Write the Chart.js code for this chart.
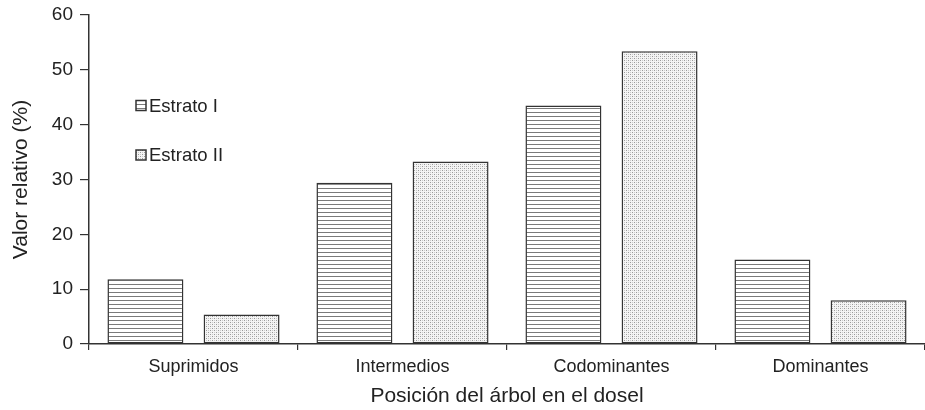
<!DOCTYPE html>
<html lang="es">
<head>
    <meta charset="UTF-8">
    <title>Posición del árbol en el dosel</title>
    <script src="https://cdn.jsdelivr.net/npm/chart.js"></script>
    <style>
        html, body { margin: 0; padding: 0; background: #ffffff; }
        #wrap { width: 925px; height: 410px; position: relative; }
    </style>
</head>
<body>
    <div id="wrap"><canvas id="chart"></canvas></div>

    <script>
        // data
        const categories = ["Suprimidos", "Intermedios", "Codominantes", "Dominantes"];
        const estratoI = [11.8, 29.4, 43.5, 15.4];
        const estratoII = [5.4, 33.3, 53.4, 8.0];
        const seriesNames = ["Estrato I", "Estrato II"];
        const yTicks = [0, 10, 20, 30, 40, 50, 60];

        const FONT = "'Liberation Sans', Arial, sans-serif";
        const INK = "#222222";
        const LINE = "#333333";

        // horizontal hatch for Estrato I
        function makeLines() {
            const c = document.createElement("canvas");
            c.width = 4; c.height = 4;
            const g = c.getContext("2d");
            g.fillStyle = "#ffffff";
            g.fillRect(0, 0, 4, 4);
            g.fillStyle = "#7a7a7a";
            g.fillRect(0, 0, 4, 1);
            return g.createPattern(c, "repeat");
        }

        // fine stipple for Estrato II
        function makeDots() {
            const c = document.createElement("canvas");
            c.width = 4; c.height = 4;
            const g = c.getContext("2d");
            g.fillStyle = "#f4f4f4";
            g.fillRect(0, 0, 4, 4);
            g.fillStyle = "#9a9a9a";
            g.fillRect(0, 0, 1, 1);
            g.fillRect(2, 2, 1, 1);
            g.fillStyle = "#cccccc";
            g.fillRect(2, 0, 1, 1);
            g.fillRect(0, 2, 1, 1);
            return g.createPattern(c, "repeat");
        }

        const fills = [makeLines(), makeDots()];

        // legend drawn inside the plot, top-left
        const insideLegend = {
            id: "insideLegend",
            afterDraw(chart) {
                const ctx = chart.ctx;
                const rows = [105.5, 155];
                ctx.save();
                seriesNames.forEach((name, i) => {
                    const y = rows[i];
                    ctx.fillStyle = fills[i];
                    ctx.fillRect(136, y - 5, 10, 10);
                    ctx.strokeStyle = LINE;
                    ctx.lineWidth = 1.5;
                    ctx.strokeRect(136, y - 5, 10, 10);
                    ctx.fillStyle = INK;
                    ctx.font = "18.5px " + FONT;
                    ctx.textBaseline = "middle";
                    ctx.textAlign = "left";
                    ctx.fillText(name, 149, y + 1);
                });
                ctx.restore();
            }
        };

        new Chart(document.getElementById("chart"), {
            type: "bar",
            data: {
                labels: categories,
                datasets: [
                    {
                        label: seriesNames[0],
                        data: estratoI,
                        backgroundColor: fills[0],
                        borderColor: LINE,
                        borderWidth: 1.5,
                        borderSkipped: false
                    },
                    {
                        label: seriesNames[1],
                        data: estratoII,
                        backgroundColor: fills[1],
                        borderColor: LINE,
                        borderWidth: 1.5,
                        borderSkipped: false
                    }
                ]
            },
            options: {
                responsive: true,
                maintainAspectRatio: false,
                animation: false,
                categoryPercentage: 0.92,
                barPercentage: 0.79,
                layout: { padding: { top: 15, right: 0, bottom: 0, left: 0 } },
                plugins: {
                    legend: { display: false },
                    tooltip: { enabled: false }
                },
                scales: {
                    x: {
                        grid: {
                            display: true,
                            offset: true,
                            drawOnChartArea: false,
                            drawTicks: true,
                            tickLength: 6,
                            color: LINE,
                            lineWidth: 1.2
                        },
                        border: { display: true, color: LINE, width: 1.5 },
                        ticks: {
                            color: INK,
                            font: { family: FONT, size: 18 },
                            padding: 6,
                            maxRotation: 0
                        },
                        title: {
                            display: true,
                            text: "Posición del árbol en el dosel",
                            color: INK,
                            font: { family: FONT, size: 21 },
                            padding: { top: 0, bottom: 1 }
                        },
                        afterFit(scale) { scale.height = 66; }
                    },
                    y: {
                        min: 0,
                        max: 60,
                        afterBuildTicks(scale) {
                            scale.ticks = yTicks.map(v => ({ value: v }));
                        },
                        grid: {
                            display: true,
                            drawOnChartArea: false,
                            drawTicks: true,
                            tickLength: 9,
                            color: LINE,
                            lineWidth: 1.2
                        },
                        border: { display: true, color: LINE, width: 1.5 },
                        ticks: {
                            color: INK,
                            font: { family: FONT, size: 19 },
                            padding: 7
                        },
                        title: {
                            display: true,
                            text: "Valor relativo (%)",
                            color: INK,
                            font: { family: FONT, size: 21 },
                            padding: { top: 9, bottom: 0 }
                        },
                        afterFit(scale) {
                            scale.width = 89;
                            scale.paddingTop = 0;
                            scale.paddingBottom = 0;
                        }
                    }
                }
            },
            plugins: [insideLegend]
        });
    </script>
</body>
</html>
